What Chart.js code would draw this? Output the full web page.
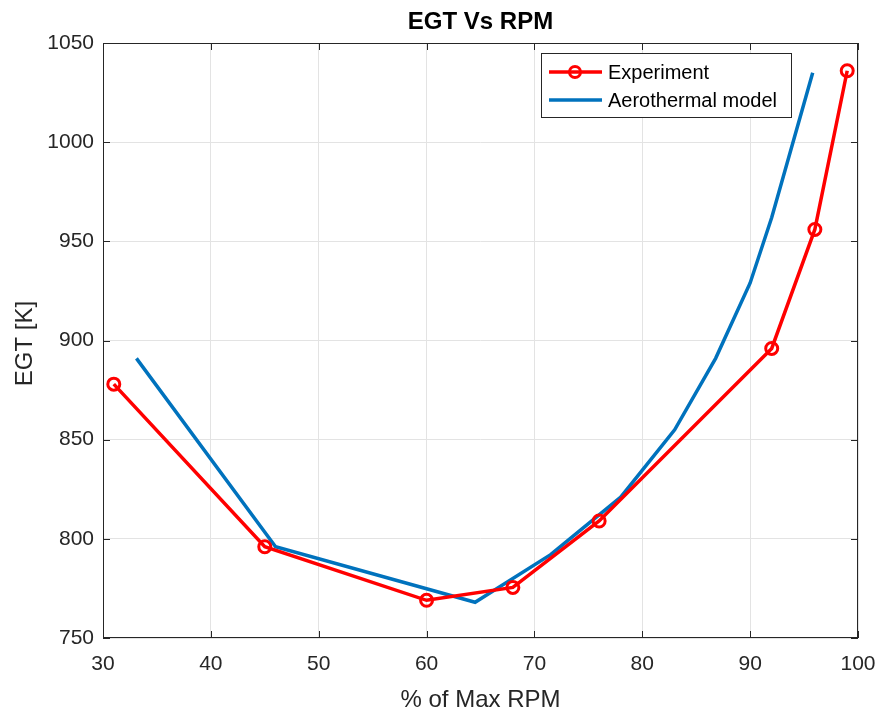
<!DOCTYPE html>
<html><head><meta charset="utf-8">
<script src="https://cdn.jsdelivr.net/npm/chart.js@4/dist/chart.umd.min.js"></script>
<style>html,body{margin:0;padding:0;background:#fff}#wrap{width:883px;height:713px}</style>
</head><body><div id="wrap"><canvas id="c" width="883" height="713"></canvas></div>
<script>
const chartTitle = 'EGT Vs RPM';
const xLabel = '% of Max RPM';
const yLabel = 'EGT [K]';
const seriesNames = ['Experiment', 'Aerothermal model'];
const expX = [31, 45, 60, 68, 76, 92, 96, 99];
const expY = [878, 796, 769, 775.5, 809, 896, 956, 1036];
const modelX = [33.1, 46, 64.5, 71.5, 78, 83, 86.8, 90, 92, 95.8];
const modelY = [891, 796, 768, 792, 821, 855, 891, 929, 962, 1035];
const xTicks = [30, 40, 50, 60, 70, 80, 90, 100];
const yTicks = [750, 800, 850, 900, 950, 1000, 1050];

const AX = '#262626';
const FONT = '"Liberation Sans", Arial, Helvetica, sans-serif';

const decor = {
  id: 'decor',
  afterDraw(chart) {
    const ctx = chart.ctx, a = chart.chartArea;
    const xs = chart.scales.x, ys = chart.scales.y;
    ctx.save();
    // box
    ctx.strokeStyle = AX; ctx.lineWidth = 1;
    ctx.strokeRect(a.left + 0.5, a.top + 0.5, a.right - a.left - 1, a.bottom - a.top - 1);
    // inward ticks
    const tl = 7;
    ctx.beginPath();
    xTicks.forEach(v => {
      const px = Math.round(xs.getPixelForValue(v)) + 0.5;
      ctx.moveTo(px, a.bottom); ctx.lineTo(px, a.bottom - tl);
      ctx.moveTo(px, a.top); ctx.lineTo(px, a.top + tl);
    });
    yTicks.forEach(v => {
      const py = Math.round(ys.getPixelForValue(v)) + 0.5;
      ctx.moveTo(a.left, py); ctx.lineTo(a.left + tl, py);
      ctx.moveTo(a.right, py); ctx.lineTo(a.right - tl, py);
    });
    ctx.stroke();
    // title
    ctx.fillStyle = '#000';
    ctx.font = 'bold 24px ' + FONT;
    ctx.textAlign = 'center'; ctx.textBaseline = 'alphabetic';
    ctx.fillText(chartTitle, (a.left + a.right) / 2, 29);
    // axis labels
    ctx.fillStyle = AX;
    ctx.font = '24px ' + FONT;
    ctx.fillText(xLabel, (a.left + a.right) / 2, 707);
    ctx.save();
    ctx.translate(32, (a.top + a.bottom) / 2 + 3);
    ctx.rotate(-Math.PI / 2);
    ctx.fillText(yLabel, 0, 0);
    ctx.restore();
    // legend
    const lx = 541.5, ly = 53.5, lw = 250, lh = 64;
    ctx.fillStyle = '#fff';
    ctx.fillRect(lx, ly, lw, lh);
    ctx.strokeStyle = AX; ctx.lineWidth = 1;
    ctx.strokeRect(lx, ly, lw, lh);
    const ds = chart.data.datasets;
    const rows = [72, 100];
    ds.forEach((d, i) => {
      const y = rows[i];
      ctx.strokeStyle = d.borderColor; ctx.lineWidth = 3.5;
      ctx.beginPath(); ctx.moveTo(549, y); ctx.lineTo(602, y); ctx.stroke();
      if (d.pointRadius > 0) {
        ctx.lineWidth = 3;
        ctx.beginPath(); ctx.arc(575, y, 5.5, 0, Math.PI * 2); ctx.stroke();
      }
      ctx.fillStyle = '#000';
      ctx.font = '20px ' + FONT;
      ctx.textAlign = 'left'; ctx.textBaseline = 'middle';
      ctx.fillText(d.label, 608, y + 1);
    });
    ctx.restore();
  }
};

new Chart(document.getElementById('c'), {
  type: 'line',
  data: {
    datasets: [
      {
        label: seriesNames[0],
        data: expX.map((x, i) => ({ x, y: expY[i] })),
        borderColor: '#ff0000', borderWidth: 3.5,
        pointRadius: 6, pointBorderWidth: 3,
        pointBackgroundColor: 'rgba(0,0,0,0)', pointBorderColor: '#ff0000',
        tension: 0, order: 1
      },
      {
        label: seriesNames[1],
        data: modelX.map((x, i) => ({ x, y: modelY[i] })),
        borderColor: '#0072bd', borderWidth: 3.5,
        pointRadius: 0, tension: 0, order: 2
      }
    ]
  },
  options: {
    responsive: false, animation: false,
    layout: { padding: { left: 0, right: 25, top: 43, bottom: 0 } },
    plugins: { legend: { display: false }, title: { display: false }, tooltip: { enabled: false } },
    scales: {
      x: {
        type: 'linear', min: 30, max: 100,
        afterBuildTicks: s => { s.ticks = xTicks.map(v => ({ value: v })); },
        afterFit: s => { s.height = 75; s.paddingLeft = 0; s.paddingRight = 0; },
        grid: { color: '#e3e3e3', drawTicks: false, lineWidth: 1 },
        border: { display: false },
        ticks: { color: AX, font: { size: 21, family: FONT }, padding: 14, maxRotation: 0, callback: v => String(v) }
      },
      y: {
        type: 'linear', min: 750, max: 1050,
        afterBuildTicks: s => { s.ticks = yTicks.map(v => ({ value: v })); },
        afterFit: s => { s.width = 103; s.paddingTop = 0; s.paddingBottom = 0; },
        grid: { color: '#e3e3e3', drawTicks: false, lineWidth: 1 },
        border: { display: false },
        ticks: { color: AX, font: { size: 21, family: FONT }, padding: 9, callback: v => String(v) }
      }
    }
  },
  plugins: [decor]
});
</script></body></html>
